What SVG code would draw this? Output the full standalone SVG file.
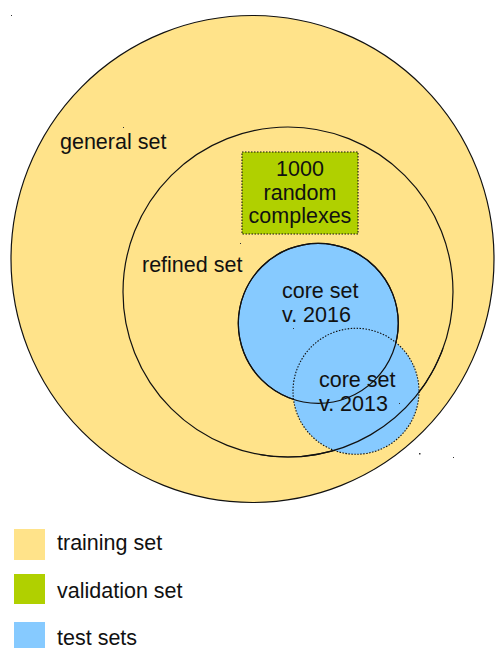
<svg xmlns="http://www.w3.org/2000/svg" width="496" height="648" viewBox="0 0 496 648">
  <style>
    text { font-family: "Liberation Sans", Arial, sans-serif; font-size: 21.5px; fill: #111; }
    .train { fill: #ffe38a; }
    .valid { fill: #b0d000; }
    .test { fill: #86caff; }
    .solid { stroke: #111; stroke-width: 1.2; }
    .dotted { stroke: #111; stroke-width: 1.1; stroke-dasharray: 1.5 1.5; }
    .speck { fill: #333; }
  </style>
  <rect width="496" height="648" fill="#ffffff"/>

  <g id="general-set">
    <ellipse class="train solid" cx="252.5" cy="259" rx="241.5" ry="243.5"/>
    <text x="60" y="149">general set</text>
  </g>

  <g id="refined-set">
    <circle class="train solid" cx="288" cy="292" r="165"/>
    <text x="142" y="272">refined set</text>
  </g>

  <g id="random-complexes">
    <rect class="valid dotted" x="242" y="152" width="116" height="82"/>
    <text x="300" y="176" text-anchor="middle">1000</text>
    <text x="300" y="200" text-anchor="middle">random</text>
    <text x="300" y="223" text-anchor="middle">complexes</text>
  </g>

  <g id="core-2016">
    <circle class="test solid" cx="318.3" cy="323.3" r="80"/>
  </g>

  <g id="core-2013">
    <circle class="test dotted" cx="356" cy="391.3" r="63"/>
  </g>

  <!-- outlines of the 2016 core set and the refined set, redrawn over the 2013 set -->
  <g id="connectors">
    <circle cx="318.3" cy="323.3" r="80" fill="none" class="solid"/>
    <path d="M 443 348.4 A 165 165 0 0 1 259.3 454.5" fill="none" class="solid"/>
  </g>

  <g id="labels">
    <text x="282" y="298">core set</text>
    <text x="282" y="322">v. 2016</text>
    <text x="319" y="387">core set</text>
    <text x="319" y="411">v. 2013</text>
  </g>

  <g id="specks">
    <rect class="speck" x="11" y="15" width="1" height="1"/>
    <rect class="speck" x="123" y="127" width="1" height="1"/>
    <rect class="speck" x="240" y="243" width="1" height="1"/>
    <rect class="speck" x="293" y="328" width="1" height="1"/>
    <rect class="speck" x="399" y="403" width="1" height="1"/>
    <rect class="speck" x="419" y="453" width="1.5" height="1.5"/>
    <rect class="speck" x="453" y="457" width="1" height="1"/>
  </g>

  <g id="legend">
    <rect class="train" x="14" y="529" width="31" height="31"/>
    <text x="57" y="550">training set</text>
    <rect class="valid" x="14" y="574" width="31" height="30"/>
    <text x="57" y="598">validation set</text>
    <rect class="test" x="14" y="622" width="31" height="30"/>
    <text x="57" y="645">test sets</text>
  </g>
</svg>
